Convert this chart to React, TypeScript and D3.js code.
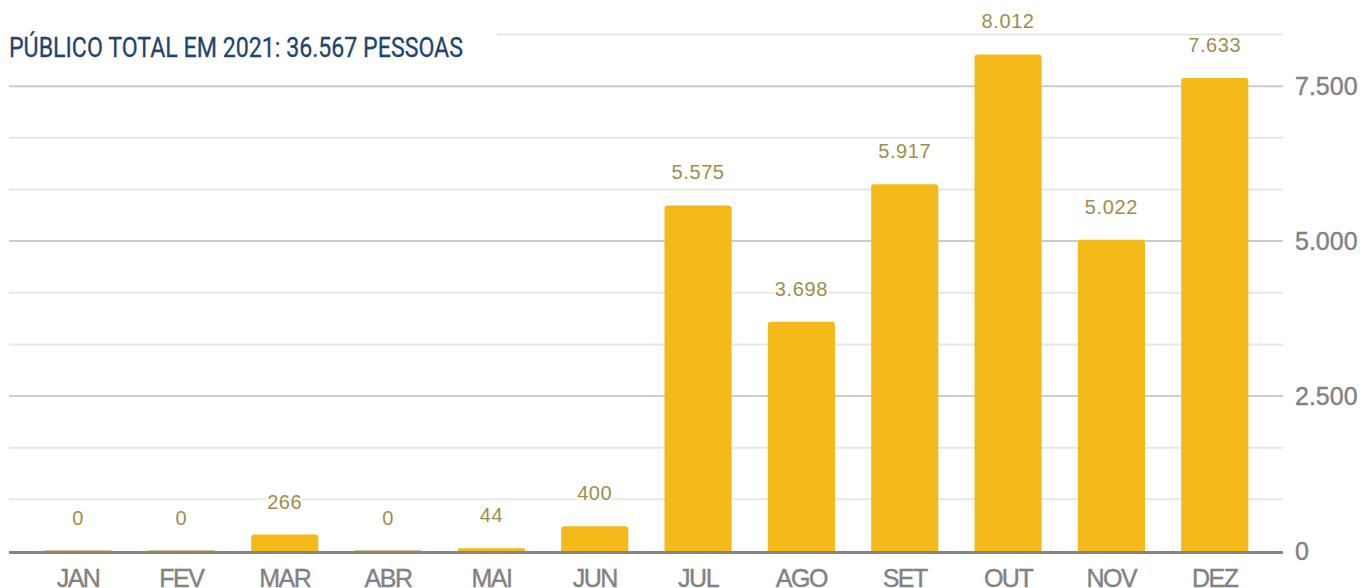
// Público mensal 2021 — vertical bars, right-side y axis, pt-BR number format.
import { useEffect, useRef } from "react";
import * as d3 from "d3";

const MONTHS = ["JAN", "FEV", "MAR", "ABR", "MAI", "JUN", "JUL", "AGO", "SET", "OUT", "NOV", "DEZ"];
const PUBLICO = [0, 0, 266, 0, 44, 400, 5575, 3698, 5917, 8012, 5022, 7633];
const Y_TICKS = [0, 2500, 5000, 7500];
const TITLE = "PÚBLICO TOTAL EM 2021: 36.567 PESSOAS";

const W = 1360;
const H = 588;
const BAR = "#f4ba19";
const LABEL = "#a08d4c";
const AXIS_INK = "#828282";

const ptBR = d3.formatLocale({ decimal: ",", thousands: ".", grouping: [3], currency: ["R$", ""] });
const fmt = ptBR.format(",d");

export default function App() {
  const ref = useRef<SVGSVGElement>(null);

  useEffect(() => {
    const svg = d3.select(ref.current);
    svg.selectAll("*").remove();

    const gridLeft = 9;
    const gridRight = 1283;
    const yMax = 2500 * (10 / 3);

    const x = d3
      .scaleBand<string>()
      .domain(MONTHS)
      .range([26.4, 1266.4])
      .paddingInner(0.35)
      .paddingOuter(0.175);
    const y = d3.scaleLinear().domain([0, yMax]).range([551, 34.5]);

    // gridlines: major every 2.500, minor every third of that
    const grid = d3.range(1, 11).map((i) => (i * 2500) / 3);
    svg
      .append("g")
      .selectAll("line")
      .data(grid)
      .join("line")
      .attr("x1", gridLeft)
      .attr("x2", gridRight)
      .attr("y1", (d) => y(d))
      .attr("y2", (d) => y(d))
      .attr("stroke", (_d, i) => ((i + 1) % 3 === 0 ? "#cccccc" : "#e6e6e6"))
      .attr("stroke-width", 2);

    // title sits on a white plate that hides the top gridline
    svg.append("rect").attr("x", 0).attr("y", 18).attr("width", 497).attr("height", 40).attr("fill", "#fff");
    svg
      .append("text")
      .attr("x", 9)
      .attr("y", 57)
      .attr("fill", "#1f4470")
      .attr("font-family", "Roboto, sans-serif")
      .attr("font-size", 27)
      .attr("stroke", "#1f4470")
      .attr("stroke-width", 0.3)
      .attr("textLength", 454)
      .attr("lengthAdjust", "spacingAndGlyphs")
      .text(TITLE);

    // bars
    const data = MONTHS.map((m, i) => ({ m, v: PUBLICO[i] }));
    svg
      .append("g")
      .selectAll("path")
      .data(data)
      .join("path")
      .attr("fill", (d) => (d.v > 0 ? BAR : "#d8c48a"))
      .attr("d", (d) => {
        const x0 = x(d.m) ?? 0;
        const w = x.bandwidth();
        const top = Math.min(y(d.v), y(0) - 1);
        const r = Math.min(3, (y(0) - top) / 2);
        const b = y(0);
        return `M${x0},${b}V${top + r}Q${x0},${top} ${x0 + r},${top}H${x0 + w - r}Q${x0 + w},${top} ${x0 + w},${top + r}V${b}Z`;
      });

    // value labels with white halo
    svg
      .append("g")
      .selectAll("text")
      .data(data)
      .join("text")
      .attr("x", (d) => (x(d.m) ?? 0) + x.bandwidth() / 2)
      .attr("y", (d) => y(d.v) - 26)
      .attr("text-anchor", "middle")
      .attr("fill", LABEL)
      .attr("stroke", "#fff")
      .attr("stroke-width", 4)
      .attr("paint-order", "stroke")
      .attr("font-family", "'Liberation Sans', Arial, sans-serif")
      .attr("font-size", 20)
      .attr("letter-spacing", "0.6px")
      .text((d) => fmt(d.v));

    // baseline
    svg
      .append("line")
      .attr("x1", gridLeft)
      .attr("x2", gridRight)
      .attr("y1", y(0) + 1.5)
      .attr("y2", y(0) + 1.5)
      .attr("stroke", "#858585")
      .attr("stroke-width", 3);

    // right y axis labels
    svg
      .append("g")
      .selectAll("text")
      .data(Y_TICKS)
      .join("text")
      .attr("x", 1295)
      .attr("y", (d) => y(d) + 9)
      .attr("fill", AXIS_INK)
      .attr("font-family", "'Liberation Sans', Arial, sans-serif")
      .attr("font-size", 25)
      .attr("stroke", AXIS_INK)
      .attr("stroke-width", 0.4)
      .text((d) => fmt(d));

    // month labels (cut by the bottom edge, as in the source)
    svg
      .append("g")
      .selectAll("text")
      .data(MONTHS)
      .join("text")
      .attr("x", (d) => (x(d) ?? 0) + x.bandwidth() / 2)
      .attr("y", 587)
      .attr("text-anchor", "middle")
      .attr("fill", AXIS_INK)
      .attr("font-family", "'Liberation Sans', Arial, sans-serif")
      .attr("font-size", 25)
      .attr("stroke", AXIS_INK)
      .attr("stroke-width", 0.4)
      .attr("letter-spacing", "-1.5px")
      .text((d) => d);
  }, []);

  return (
    <svg
      ref={ref}
      width={W}
      height={H}
      viewBox={`0 0 ${W} ${H}`}
      style={{ position: "fixed", left: 0, top: 0, background: "#fff" }}
    />
  );
}
